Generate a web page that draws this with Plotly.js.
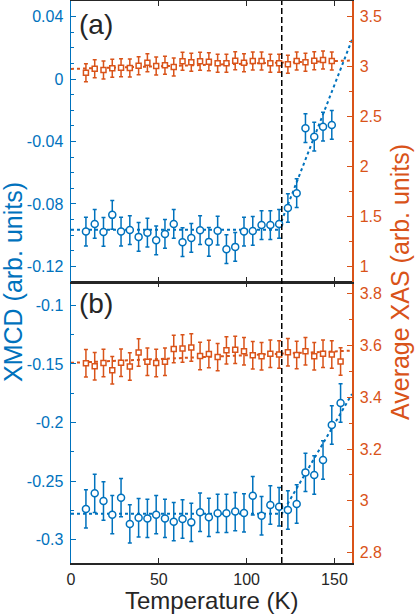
<!DOCTYPE html>
<html>
<head>
<meta charset="utf-8">
<script src="https://cdn.plot.ly/plotly-3.0.1.min.js"></script>
<style>
  html, body { margin: 0; padding: 0; background: #fff; }
  #chart { width: 415px; height: 615px; }
</style>
</head>
<body>
<div id="chart"></div>
<script>
// Temperatures (K)
const tempA = [8.5, 13.5, 18.5, 23.5, 28.5, 33.5, 38.5, 43.5, 48.5, 53.5, 58.5, 63.5, 68.5, 73.5, 78.5,
  83.5, 88.5, 93.5, 98.5, 103.5, 108.5, 113.5, 118.5, 123.5, 128.5, 133.5, 138.5, 143.5, 148.5];
const tempB = [8.5, 13.5, 18.5, 23.5, 28.5, 33.5, 38.5, 43.5, 48.5, 53.5, 58.5, 63.5, 68.5, 73.5, 78.5,
  83.5, 88.5, 93.5, 98.5, 103.5, 108.5, 113.5, 118.5, 123.5, 128.5, 133.5, 138.5, 143.5, 148.5, 153.5];

// panel (a)
const xmcdA = [-0.0977, -0.0928, -0.0979, -0.0870, -0.0977, -0.0967, -0.1011, -0.0984, -0.1033, -0.0992,
  -0.0928, -0.1045, -0.1018, -0.0968, -0.1043, -0.0971, -0.1090, -0.1075, -0.0977, -0.0973,
  -0.0935, -0.0935, -0.0928, -0.0826, -0.0731, -0.0315, -0.0369, -0.0305, -0.0294];
const xasA = [2.940, 2.980, 2.967, 2.984, 2.990, 2.987, 3.010, 3.040, 3.007, 3.014,
  2.997, 3.054, 3.044, 3.054, 3.050, 3.034, 3.034, 3.060, 3.040, 3.057,
  3.057, 3.034, 3.034, 3.024, 3.057, 3.044, 3.060, 3.067, 3.057];
const xmcdErrA = 0.0092;
const xasErrA = 0.09;

// panel (b)
const xmcdB = [-0.2738, -0.2605, -0.2670, -0.2787, -0.2642, -0.2866, -0.2813, -0.2819, -0.2787, -0.2819,
  -0.2847, -0.2824, -0.2853, -0.2767, -0.2810, -0.2776, -0.2776, -0.2761, -0.2772, -0.2625,
  -0.2796, -0.2704, -0.2719, -0.2747, -0.2696, -0.2426, -0.2448, -0.2320, -0.2021, -0.1833];
const xasB = [3.531, 3.520, 3.532, 3.504, 3.533, 3.519, 3.573, 3.537, 3.532, 3.537,
  3.586, 3.588, 3.592, 3.559, 3.567, 3.555, 3.581, 3.583, 3.578, 3.562,
  3.558, 3.568, 3.565, 3.574, 3.563, 3.578, 3.558, 3.568, 3.565, 3.538];
const xmcdErrB = 0.0164;
const xasErrB = 0.053;

// fits (dotted)
const fitXmcdTA = [0, 118, 160];
const fitXmcdA = [-0.0965, -0.0965, 0.0252];
const fitXasTA = [0, 160];
const fitXasA = [2.978, 3.062];
const fitXmcdTB = [0, 120, 160];
const fitXmcdB = [-0.278, -0.278, -0.1756];
const fitXasTB = [0, 160];
const fitXasB = [3.533, 3.58];

const transitionT = 120;

// ticks
const xTicks = [0, 50, 100, 150];
const yTicksA = [0.04, 0, -0.04, -0.08, -0.12];
const yTextA = ["0.04", "0", "-0.04", "-0.08", "-0.12"];
const y2TicksA = [1, 1.5, 2, 2.5, 3, 3.5];
const y2TextA = ["1", "1.5", "2", "2.5", "3", "3.5"];
const yTicksB = [-0.1, -0.15, -0.2, -0.25, -0.3];
const yTextB = ["-0.1", "-0.15", "-0.2", "-0.25", "-0.3"];
const y2TicksB = [2.8, 3, 3.2, 3.4, 3.6, 3.8];
const y2TextB = ["2.8", "3", "3.2", "3.4", "3.6", "3.8"];

const BLUE = "#0072BD";
const ORANGE = "#D95319";
const DARK = "#262626";
const FONT = "Liberation Sans, Arial, sans-serif";

function fitTrace(x, y, color, xa, ya) {
  return {
    x, y, xaxis: xa, yaxis: ya,
    type: "scatter", mode: "lines",
    line: { color, width: 2, dash: "dot" },
    hoverinfo: "skip",
  };
}

function dataTrace(x, y, err, color, symbol, size, xa, ya) {
  return {
    x, y, xaxis: xa, yaxis: ya,
    type: "scatter", mode: "markers",
    marker: { symbol, size, color: "#fff", line: { color, width: 1.5 } },
    error_y: { type: "constant", value: err, color, thickness: 1.5, width: 2 },
  };
}

function yAxis(color, range, tickvals, ticktext, minor, extra) {
  return Object.assign({
    range, tickmode: "array", tickvals, ticktext,
    ticks: "inside", ticklen: 5, tickwidth: 1, tickcolor: color,
    showline: true, linecolor: color, linewidth: 1.5,
    showgrid: false, zeroline: false,
    tickfont: { family: FONT, size: 16, color },
    ticklabelstandoff: 3,
    minor: { tickmode: "linear", tick0: 0, dtick: minor, ticks: "inside", ticklen: 3, tickcolor: color, showgrid: false },
  }, extra);
}

function xAxis(extra) {
  return Object.assign({
    range: [0, 160], tickmode: "array", tickvals: xTicks,
    ticks: "inside", ticklen: 5, tickwidth: 1, tickcolor: DARK,
    showline: true, linecolor: DARK, linewidth: 1.5, mirror: "ticks",
    showgrid: false, zeroline: false,
    tickfont: { family: FONT, size: 16, color: DARK },
  }, extra);
}

const data = [
  fitTrace(fitXmcdTA, fitXmcdA, BLUE, "x2", "y"),
  dataTrace(tempA, xmcdA, xmcdErrA, BLUE, "circle", 7, "x2", "y"),
  fitTrace(fitXasTA, fitXasA, ORANGE, "x2", "y2"),
  dataTrace(tempA, xasA, xasErrA, ORANGE, "square", 5, "x2", "y2"),
  fitTrace(fitXmcdTB, fitXmcdB, BLUE, "x", "y3"),
  dataTrace(tempB, xmcdB, xmcdErrB, BLUE, "circle", 7, "x", "y3"),
  fitTrace(fitXasTB, fitXasB, ORANGE, "x", "y4"),
  dataTrace(tempB, xasB, xasErrB, ORANGE, "square", 5, "x", "y4"),
];

const layout = {
  width: 415,
  height: 615,
  margin: { l: 71, r: 63, t: 1, b: 52 },
  paper_bgcolor: "#fff",
  plot_bgcolor: "rgba(0,0,0,0)",
  showlegend: false,
  font: { family: FONT, color: DARK },
  xaxis: xAxis({ domain: [0, 1], anchor: "y3", ticklabelstandoff: 1 }),
  xaxis2: xAxis({ domain: [0, 1], anchor: "y", matches: "x", showticklabels: false }),
  yaxis: yAxis(BLUE, [-0.13, 0.05], yTicksA, yTextA, 0.01, { domain: [0.5, 1], anchor: "x2" }),
  yaxis2: yAxis(ORANGE, [0.847, 3.657], y2TicksA, y2TextA, 0.25, { overlaying: "y", side: "right", anchor: "x2" }),
  yaxis3: yAxis(BLUE, [-0.32, -0.08], yTicksB, yTextB, 0.025, { domain: [0, 0.5], anchor: "x" }),
  yaxis4: yAxis(ORANGE, [2.76, 3.845], y2TicksB, y2TextB, 0.1, { overlaying: "y3", side: "right", anchor: "x" }),
  shapes: [
    {
      type: "line", xref: "x", yref: "paper",
      x0: transitionT, x1: transitionT, y0: 0, y1: 1,
      line: { color: "#000", width: 1.5, dash: "6px,3px" },
    },
  ],
  annotations: [
    { text: "(a)", xref: "paper", yref: "paper", x: 0.022, y: 0.959, xanchor: "left", yanchor: "middle",
      showarrow: false, font: { size: 28, color: DARK } },
    { text: "(b)", xref: "paper", yref: "paper", x: 0.022, y: 0.461, xanchor: "left", yanchor: "middle",
      showarrow: false, font: { size: 28, color: DARK } },
    { text: "XMCD (arb. units)", xref: "paper", yref: "paper", x: -0.2064, y: 0.5, textangle: -90,
      xanchor: "center", yanchor: "middle", showarrow: false, font: { size: 25, color: BLUE } },
    { text: "Average XAS (arb. units)", xref: "paper", yref: "paper", x: 1.1708, y: 0.5, textangle: -90,
      xanchor: "center", yanchor: "middle", showarrow: false, font: { size: 25, color: ORANGE } },
    { text: "Temperature (K)", xref: "paper", yref: "paper", x: 0.5, y: -0.0676,
      xanchor: "center", yanchor: "middle", showarrow: false, font: { size: 24, color: DARK } },
  ],
};

Plotly.newPlot("chart", data, layout, { displayModeBar: false, staticPlot: true });
</script>
</body>
</html>
